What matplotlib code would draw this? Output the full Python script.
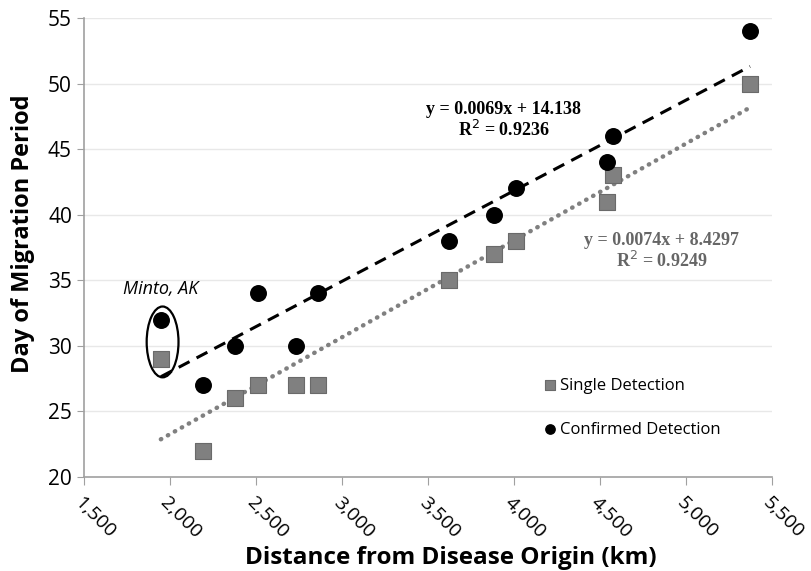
import numpy as np
import matplotlib.pyplot as plt
from matplotlib.patches import Ellipse

# Distance from disease origin (km) for each site
distance = [1948, 2192, 2378, 2512, 2733, 2860, 3622, 3884, 4012, 4541, 4576, 5372]
# Day of migration period
single_day = [29, 22, 26, 27, 27, 27, 35, 37, 38, 41, 43, 50]
confirmed_day = [32, 27, 30, 34, 30, 34, 38, 40, 42, 44, 46, 54]

x_ticks = [1500, 2000, 2500, 3000, 3500, 4000, 4500, 5000, 5500]
y_ticks = [20, 25, 30, 35, 40, 45, 50, 55]

sans = ['Open Sans', 'DejaVu Sans']
serif = ['Liberation Serif', 'DejaVu Serif']

fig = plt.figure(figsize=(8.11, 5.71), dpi=100)
ax = fig.add_axes([0.1033, 0.1646, 0.8487, 0.8039])

x = np.array(distance, dtype=float)
xs = np.array([x.min(), x.max()])

# Trendlines (linear fit)
m1, c1 = np.polyfit(x, confirmed_day, 1)
m2, c2 = np.polyfit(x, single_day, 1)
ax.plot(xs, m1 * xs + c1, color='black', linestyle=(0, (4, 2.6)), lw=2.2, zorder=2)
ax.plot(xs, m2 * xs + c2, color='#808080', linestyle=(0, (0.1, 1.7)),
        dash_capstyle='round', lw=3.2, zorder=2)

ax.scatter(distance, single_day, marker='s', s=125, color='#808080',
           edgecolor='#6a6a6a', linewidth=0.8, label='Single Detection', zorder=3)
ax.scatter(distance, confirmed_day, marker='o', s=125, color='black',
           label='Confirmed Detection', zorder=4)

# Minto, AK highlight
ax.add_patch(Ellipse((distance[0] + 10, 30.3), 185, 5.4, fill=False,
                     edgecolor='black', lw=1.6, zorder=5))
ax.text(distance[0] - 220, 34.3, 'Minto, AK', fontsize=13, style='italic',
        family=sans, ha='left', va='center')

ax.text(3940, 47.2, 'y = 0.0069x + 14.138\nR$^2$ = 0.9236', fontsize=13,
        fontweight='bold', family=serif, ha='center', va='center', linespacing=1.1)
ax.text(4860, 37.2, 'y = 0.0074x + 8.4297\nR$^2$ = 0.9249', fontsize=13,
        fontweight='bold', family=serif, color='#666666', ha='center',
        va='center', linespacing=1.1)

ax.set_xlim(1500, 5500)
ax.set_ylim(20, 55)
ax.set_xticks(x_ticks)
ax.set_xticklabels([f'{t:,}' for t in x_ticks], rotation=-45, ha='left',
                   va='top', rotation_mode='anchor', family=sans, fontsize=14)
ax.set_yticks(y_ticks)
ax.set_yticklabels([str(t) for t in y_ticks], family=sans, fontsize=15)
ax.tick_params(axis='x', length=6, color='#a0a0a0', pad=6)
ax.tick_params(axis='y', length=5, color='#a0a0a0')

ax.grid(axis='y', color='#e8e8e8', lw=1)
ax.set_axisbelow(True)
for side in ['top', 'right']:
    ax.spines[side].set_visible(False)
for side in ['left', 'bottom']:
    ax.spines[side].set_color('#a0a0a0')
    ax.spines[side].set_linewidth(1.2)

ax.set_xlabel('Distance from Disease Origin (km)', fontsize=17.5,
              fontweight='bold', family=sans, va='center')
ax.xaxis.set_label_coords(0.533, -0.177)
ax.set_ylabel('Day of Migration Period', fontsize=17, fontweight='bold',
              family=sans, va='center')
ax.yaxis.set_label_coords(-0.088, 0.53)

leg = ax.legend(loc='center left', bbox_to_anchor=(0.644, 0.151), frameon=False,
                prop={'family': sans, 'size': 12}, markerscale=0.6,
                handletextpad=0.1, labelspacing=1.7, handlelength=1.0)

fig.savefig('out.png', dpi=100)
